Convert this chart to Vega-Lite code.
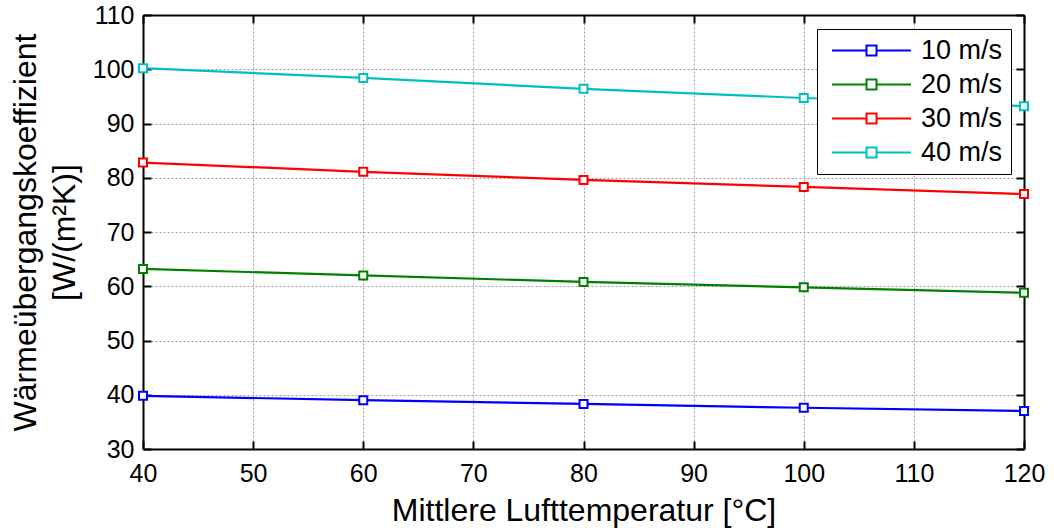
{
  "$schema": "https://vega.github.io/schema/vega-lite/v6.json",
  "width": 881,
  "height": 434,
  "autosize": {"type": "none"},
  "padding": {"left": 143, "top": 15, "right": 30, "bottom": 79},
  "background": "white",
  "config": {
    "font": "Liberation Sans",
    "view": {"stroke": null},
    "axis": {
      "labelFont": "Liberation Sans",
      "titleFont": "Liberation Sans",
      "labelColor": "black",
      "titleColor": "black",
      "domainColor": "black",
      "domainWidth": 2,
      "tickColor": "black",
      "tickWidth": 2,
      "tickSize": -8,
      "labelFontSize": 25,
      "labelFlush": false,
      "titleFontSize": 32,
      "titleFontWeight": "normal",
      "gridColor": "#a0a0a0",
      "gridDash": [2, 2],
      "gridWidth": 1
    }
  },
  "data": {
    "values": [
      {"T": 40, "h": 39.8, "v": "10 m/s"},
      {"T": 60, "h": 39.0, "v": "10 m/s"},
      {"T": 80, "h": 38.3, "v": "10 m/s"},
      {"T": 100, "h": 37.6, "v": "10 m/s"},
      {"T": 120, "h": 37.0, "v": "10 m/s"},
      {"T": 40, "h": 63.2, "v": "20 m/s"},
      {"T": 60, "h": 62.0, "v": "20 m/s"},
      {"T": 80, "h": 60.8, "v": "20 m/s"},
      {"T": 100, "h": 59.8, "v": "20 m/s"},
      {"T": 120, "h": 58.8, "v": "20 m/s"},
      {"T": 40, "h": 82.8, "v": "30 m/s"},
      {"T": 60, "h": 81.1, "v": "30 m/s"},
      {"T": 80, "h": 79.6, "v": "30 m/s"},
      {"T": 100, "h": 78.3, "v": "30 m/s"},
      {"T": 120, "h": 77.0, "v": "30 m/s"},
      {"T": 40, "h": 100.2, "v": "40 m/s"},
      {"T": 60, "h": 98.4, "v": "40 m/s"},
      {"T": 80, "h": 96.4, "v": "40 m/s"},
      {"T": 100, "h": 94.7, "v": "40 m/s"},
      {"T": 120, "h": 93.2, "v": "40 m/s"}
    ]
  },
  "layer": [
    {
      "mark": {"type": "line", "opacity": 0},
      "encoding": {
        "x": {
          "field": "T", "type": "quantitative",
          "scale": {"domain": [40, 120], "nice": false, "zero": false},
          "axis": {"orient": "top", "labels": false, "title": null, "grid": false, "values": [40, 50, 60, 70, 80, 90, 100, 110, 120]}
        },
        "y": {
          "field": "h", "type": "quantitative",
          "scale": {"domain": [30, 110], "nice": false, "zero": false},
          "axis": {"orient": "right", "labels": false, "title": null, "grid": false, "values": [30, 40, 50, 60, 70, 80, 90, 100, 110]}
        },
        "detail": {"field": "v"}
      }
    },
    {
      "mark": {
        "type": "line",
        "strokeWidth": 2.2,
        "clip": false,
        "point": {"shape": "square", "filled": false, "size": 64, "strokeWidth": 2, "fill": "white"}
      },
      "encoding": {
        "x": {
          "field": "T", "type": "quantitative",
          "scale": {"domain": [40, 120], "nice": false, "zero": false},
          "axis": {
            "orient": "bottom",
            "grid": true,
            "title": "Mittlere Lufttemperatur [°C]",
            "values": [40, 50, 60, 70, 80, 90, 100, 110, 120],
            "labelPadding": 20,
            "labelBaseline": "top",
            "titleBaseline": "alphabetic",
            "titleY": 71
          }
        },
        "y": {
          "field": "h", "type": "quantitative",
          "scale": {"domain": [30, 110], "nice": false, "zero": false},
          "axis": {
            "orient": "left",
            "grid": true,
            "title": ["Wärmeübergangskoeffizient", "[W/(m²K)]"],
            "values": [30, 40, 50, 60, 70, 80, 90, 100, 110],
            "labelPadding": 17,
            "titleAngle": -90,
            "titleX": -118,
            "titleY": 217,
            "titleAlign": "center",
            "titleBaseline": "middle",
            "titleLineHeight": 39
          }
        },
        "color": {
          "field": "v", "type": "nominal",
          "scale": {"domain": ["10 m/s", "20 m/s", "30 m/s", "40 m/s"], "range": ["#0000FF", "#008000", "#FF0000", "#00BFBF"]},
          "legend": {
            "orient": "none",
            "legendX": 674,
            "legendY": 14,
            "title": null,
            "fillColor": "white",
            "strokeColor": "black",
            "cornerRadius": 0,
            "padding": 8,
            "symbolType": "M-3.95,0H-0.5M0.5,0H3.95M-0.5,-0.5H0.5V0.5H-0.5Z",
            "symbolSize": 400,
            "symbolStrokeWidth": 2,
            "symbolFillColor": "white",
            "symbolOffset": 33,
            "labelOffset": 36,
            "labelFont": "Liberation Sans",
            "labelFontSize": 27,
            "labelColor": "black",
            "rowPadding": 6
          }
        }
      }
    }
  ],
  "resolve": {"scale": {"x": "independent", "y": "independent"}, "axis": {"x": "independent", "y": "independent"}}
}
